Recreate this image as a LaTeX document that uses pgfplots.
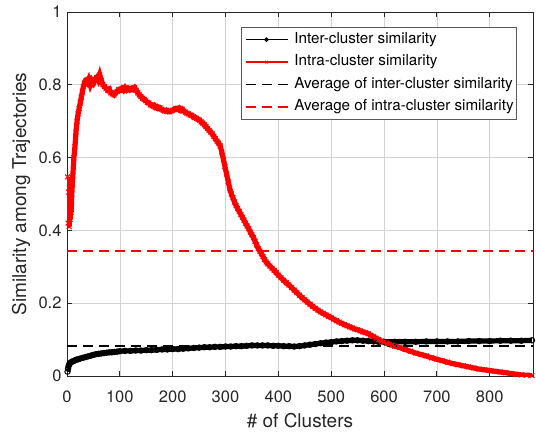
\documentclass[border=0pt]{standalone}
\usepackage{fontspec}
\setmainfont{TeX Gyre Heros}
\usepackage{pgfplots}
\usepackage{pgfplotstable}
\pgfplotsset{compat=1.18}
\definecolor{axgray}{RGB}{38,38,38}
\definecolor{gridgray}{RGB}{210,210,210}
\definecolor{mred}{RGB}{255,0,0}

\pgfplotstableread{
x y
1 0.547
2 0.42
3 0.505
4 0.41
5 0.44
6 0.43
7 0.46
8 0.45
9 0.50
11 0.55
13 0.60
15 0.63
17 0.67
19 0.70
21 0.72
23 0.735
25 0.75
27 0.765
29 0.78
31 0.795
33 0.805
35 0.81
38 0.805
41 0.815
44 0.80
47 0.812
50 0.805
53 0.815
56 0.82
59 0.812
62 0.827
65 0.812
68 0.80
71 0.795
74 0.79
77 0.785
80 0.788
83 0.778
86 0.775
89 0.772
92 0.778
95 0.782
98 0.787
101 0.785
104 0.79
107 0.785
110 0.792
113 0.786
116 0.79
119 0.786
122 0.79
125 0.787
128 0.792
131 0.785
134 0.778
137 0.772
140 0.768
143 0.763
146 0.76
149 0.756
152 0.752
155 0.75
158 0.745
161 0.742
164 0.744
167 0.738
170 0.74
173 0.735
176 0.737
179 0.733
182 0.73
185 0.728
188 0.73
191 0.726
194 0.726
197 0.728
200 0.73
203 0.732
206 0.735
209 0.733
212 0.736
215 0.73
218 0.733
221 0.728
224 0.725
227 0.722
230 0.72
233 0.717
236 0.716
239 0.712
242 0.71
245 0.708
248 0.705
251 0.703
254 0.698
257 0.695
260 0.69
263 0.685
266 0.68
269 0.675
272 0.67
275 0.665
278 0.658
281 0.652
284 0.645
287 0.64
290 0.632
293 0.615
296 0.595
299 0.575
302 0.555
305 0.535
308 0.515
311 0.50
314 0.49
317 0.478
320 0.468
323 0.46
326 0.452
329 0.444
332 0.436
335 0.428
338 0.42
341 0.412
344 0.405
347 0.395
350 0.388
353 0.38
356 0.37
359 0.36
362 0.35
365 0.343
368 0.336
371 0.328
374 0.32
377 0.313
380 0.308
384 0.302
388 0.296
392 0.29
396 0.284
400 0.277
405 0.27
410 0.263
415 0.256
420 0.25
425 0.243
430 0.236
435 0.229
440 0.222
445 0.215
450 0.209
455 0.203
460 0.197
465 0.191
470 0.186
475 0.181
480 0.176
485 0.172
490 0.168
495 0.164
500 0.16
505 0.156
510 0.152
515 0.148
520 0.145
525 0.141
530 0.138
535 0.135
540 0.132
545 0.129
550 0.127
555 0.124
560 0.121
565 0.119
570 0.116
575 0.112
580 0.108
585 0.104
590 0.10
595 0.096
600 0.093
605 0.09
610 0.087
615 0.085
620 0.082
630 0.078
640 0.073
650 0.068
660 0.063
670 0.059
680 0.055
690 0.05
700 0.046
710 0.042
720 0.038
730 0.034
740 0.031
750 0.028
760 0.025
770 0.022
780 0.019
790 0.017
800 0.015
810 0.013
820 0.011
830 0.009
840 0.007
850 0.005
860 0.003
870 0.002
880 0.001
}\intra

\pgfplotstableread{
x y
1 0.012
2 0.02
3 0.027
4 0.031
5 0.034
7 0.037
9 0.039
12 0.041
15 0.043
18 0.045
21 0.046
25 0.048
30 0.050
35 0.052
40 0.054
45 0.056
50 0.058
55 0.060
60 0.061
65 0.062
70 0.063
75 0.064
80 0.065
85 0.065
90 0.066
95 0.067
100 0.068
110 0.069
120 0.069
130 0.070
140 0.070
150 0.071
160 0.071
170 0.072
180 0.073
190 0.073
200 0.074
210 0.074
220 0.075
230 0.076
240 0.077
250 0.078
260 0.079
270 0.079
280 0.080
290 0.080
300 0.081
310 0.081
320 0.082
330 0.082
340 0.083
350 0.084
360 0.084
370 0.084
380 0.084
390 0.083
400 0.083
410 0.082
420 0.082
430 0.081
440 0.082
450 0.084
460 0.086
470 0.088
480 0.090
490 0.092
500 0.093
510 0.095
520 0.096
530 0.097
540 0.098
550 0.098
560 0.097
570 0.096
580 0.095
590 0.094
600 0.094
620 0.094
640 0.094
660 0.094
680 0.095
700 0.095
720 0.095
740 0.095
760 0.096
780 0.096
800 0.096
820 0.097
840 0.097
860 0.097
880 0.098
}\inter

\pgfplotstableread{
x y
0 0.083
882 0.083
}\avginter

\pgfplotstableread{
x y
0 0.343
882 0.343
}\avgintra

\begin{document}
\begin{tikzpicture}
\begin{axis}[name=ax,
  scale only axis, width=466bp, height=364bp,
  xmin=0, xmax=882, ymin=0, ymax=1,
  xtick={0,100,200,300,400,500,600,700,800},
  ytick={0,0.2,0.4,0.6,0.8,1},
  grid=major, major grid style={gridgray, line width=0.6bp},
  axis line style={axgray, line width=0.7bp},
  tick style={axgray, line width=0.7bp},
  major tick length=5bp, tick align=inside,
  /pgf/number format/assume math mode=true,
  ticklabel style={font=\fontsize{16.5bp}{19bp}\selectfont, text=axgray},
  xticklabel style={yshift=-11bp},
  yticklabel style={xshift=-2bp},
  xlabel={\# of Clusters},
  ylabel={Similarity among Trajectories},
  label style={font=\fontsize{19bp}{22bp}\selectfont, text=axgray},
  xlabel style={at={(axis description cs:0.5,-0.1236)}, anchor=center},
  ylabel style={at={(axis description cs:-0.0987,0.5)}, anchor=center},
  legend cell align=left,
  legend style={at={(axis description cs:1,1)}, anchor=north east,
    xshift=-16bp, yshift=-15bp, draw=black!65, line width=0.7bp,
    font=\fontsize{15.2bp}{18bp}\selectfont, inner xsep=3bp, inner ysep=1bp,
    nodes={inner xsep=0bp, inner ysep=4bp, text height=11bp, text depth=3.5bp},
    /tikz/every odd column/.append style={column sep=6bp}},
  legend image code/.code={
    \draw[#1, line width=1.8bp, mark=none] (0bp,0bp) -- (42bp,0bp);
    \draw[#1, line width=0.9bp, only marks, mark size=1.8bp] plot coordinates {(21bp,0bp)};
  },
]
\addplot[color=black, line width=5.2bp, mark=o, mark size=2.7bp,
  mark options={line width=1bp, solid}] table[x=x,y=y]{\inter};
\addlegendentry{Inter-cluster similarity}
\addplot[color=mred, line width=5.2bp, mark=x, mark size=3.4bp,
  mark options={line width=1bp, solid}] table[x=x,y=y]{\intra};
\addlegendentry{Intra-cluster similarity}
\addplot[black, line width=1.8bp, dash pattern=on 10bp off 6bp]
  table[x=x,y=y]{\avginter};
\addlegendentry{Average of inter-cluster similarity}
\addplot[mred, line width=1.8bp, dash pattern=on 10bp off 6bp]
  table[x=x,y=y]{\avgintra};
\addlegendentry{Average of intra-cluster similarity}
\end{axis}
\pgfresetboundingbox
\path ([xshift=-67bp,yshift=-56bp]ax.south west) rectangle ([xshift=3bp,yshift=12bp]ax.north east);
\end{tikzpicture}
\end{document}
